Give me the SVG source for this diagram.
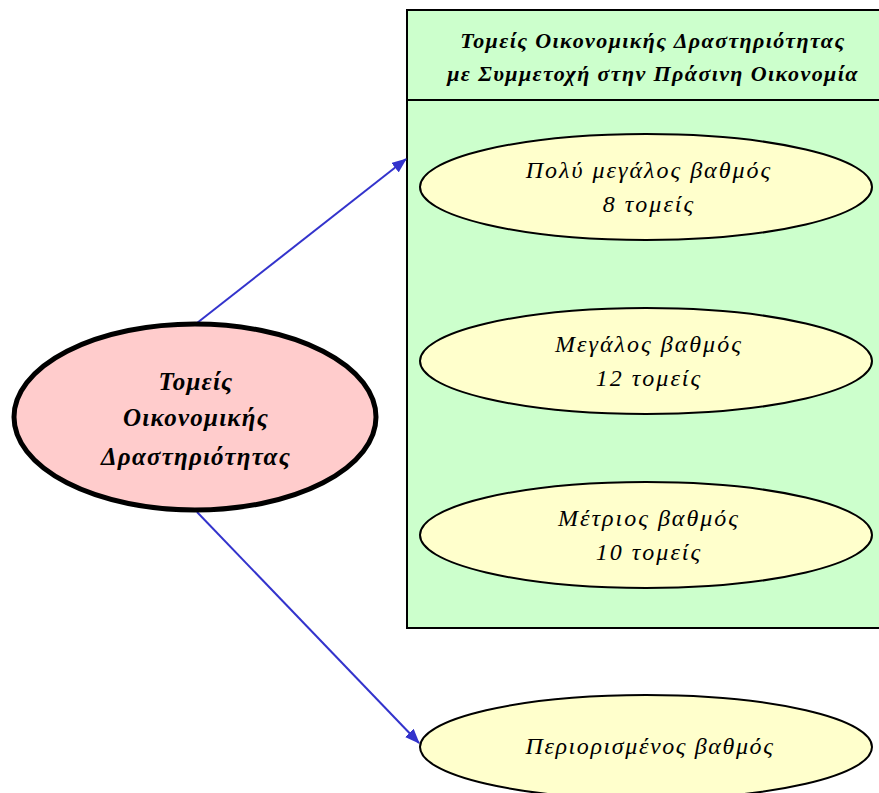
<svg xmlns="http://www.w3.org/2000/svg" width="879" height="793" viewBox="0 0 879 793">
<defs>
<style>
.t{font-family:"Liberation Serif","DejaVu Serif",serif;font-style:italic;text-anchor:middle;fill:#000}
.b{font-weight:bold}
.ti{font-size:22px;letter-spacing:1.4px}
.mn{font-size:25px;letter-spacing:1.2px}
.lf{font-size:24px;letter-spacing:2px}
.leaf{fill:#ffffcc;stroke:#000;stroke-width:2}
.edge{stroke:#3333cc;stroke-width:2;fill:none}
</style>
<marker id="ah" markerWidth="15" markerHeight="12" refX="14" refY="6" orient="auto" markerUnits="userSpaceOnUse" viewBox="0 0 15 12">
<path d="M0,0 L15,6 L0,12 Z" fill="#3333cc"/>
</marker>
</defs>
<rect width="879" height="793" fill="#fff"/>
<g id="cluster">
<rect x="407" y="10" width="480" height="618" fill="#ccffcc" stroke="#000" stroke-width="2"/>
<line x1="407" y1="100" x2="879" y2="100" stroke="#000" stroke-width="2"/>
<text class="t b ti" x="653" y="48">Τομείς Οικονομικής Δραστηριότητας</text>
<text class="t b ti" x="653" y="81">με Συμμετοχή στην Πράσινη Οικονομία</text>
</g>
<g id="connectors">
<line class="edge" x1="197" y1="323" x2="406" y2="159" marker-end="url(#ah)"/>
<line class="edge" x1="197" y1="512" x2="419" y2="743" marker-end="url(#ah)"/>
</g>
<g id="main">
<ellipse cx="195" cy="417" rx="181" ry="93" fill="#ffcccc" stroke="#000" stroke-width="5"/>
<text class="t b mn" x="196" y="390">Τομείς</text>
<text class="t b mn" x="196" y="426">Οικονομικής</text>
<text class="t b mn" x="196" y="465">Δραστηριότητας</text>
</g>
<g id="n1">
<ellipse class="leaf" cx="646" cy="187" rx="226" ry="53"/>
<text class="t lf" x="649" y="178">Πολύ μεγάλος βαθμός</text>
<text class="t lf" x="649" y="212">8 τομείς</text>
</g>
<g id="n2">
<ellipse class="leaf" cx="646" cy="361" rx="226" ry="53"/>
<text class="t lf" x="649" y="352">Μεγάλος βαθμός</text>
<text class="t lf" x="649" y="386">12 τομείς</text>
</g>
<g id="n3">
<ellipse class="leaf" cx="646" cy="535" rx="226" ry="53"/>
<text class="t lf" x="649" y="526">Μέτριος βαθμός</text>
<text class="t lf" x="649" y="560">10 τομείς</text>
</g>
<g id="n4">
<ellipse class="leaf" cx="646" cy="747" rx="226" ry="52"/>
<text class="t lf" x="650" y="754" style="letter-spacing:1.6px">Περιορισμένος βαθμός</text>
</g>
</svg>
